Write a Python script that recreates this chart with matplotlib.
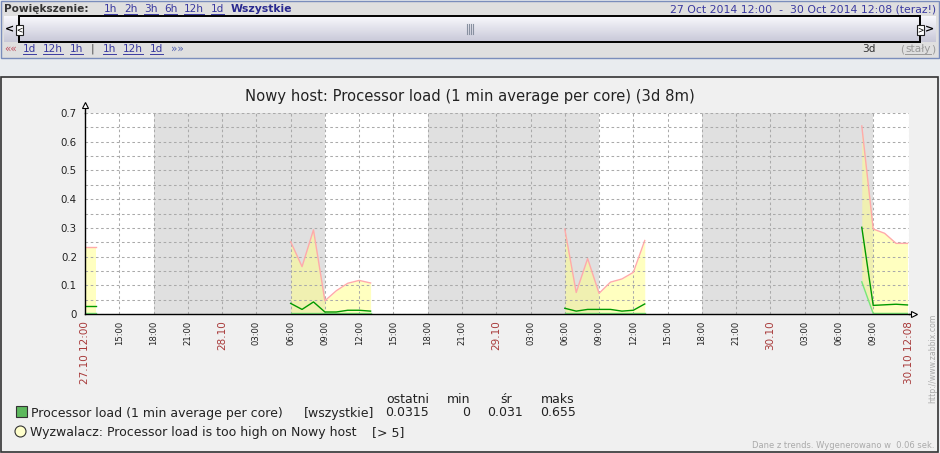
import matplotlib.pyplot as plt
from matplotlib.patches import Rectangle, Circle
import numpy as np

W, H = 940, 453

# time axis in hours counted from 27.10 12:00, graph period 3d 8m
span = 72 + 8 / 60

# trend data (hourly), four separate chunks
t1 = [0, 1]
max1 = [0.232, 0.232]
avg1 = [0.027, 0.027]
min1 = [0.002, 0.002]

t2 = [18, 19, 20, 21, 22, 23, 24, 25]
max2 = [0.252, 0.165, 0.293, 0.046, 0.081, 0.107, 0.117, 0.108]
avg2 = [0.037, 0.016, 0.042, 0.007, 0.007, 0.013, 0.013, 0.010]
min2 = [0.002, 0.002, 0.002, 0.002, 0.002, 0.002, 0.002, 0.002]

t3 = [42, 43, 44, 45, 46, 47, 48, 49]
max3 = [0.296, 0.075, 0.193, 0.072, 0.111, 0.122, 0.145, 0.256]
avg3 = [0.020, 0.010, 0.016, 0.016, 0.016, 0.010, 0.013, 0.035]
min3 = [0.002, 0.002, 0.002, 0.002, 0.002, 0.002, 0.002, 0.002]

t4 = [68, 69, 70, 71, 72]
max4 = [0.655, 0.296, 0.281, 0.246, 0.246]
avg4 = [0.302, 0.030, 0.032, 0.034, 0.0315]
min4 = [0.112, 0.002, 0.002, 0.002, 0.002]

chunks = [(t1, min1, avg1, max1), (t2, min2, avg2, max2),
          (t3, min3, avg3, max3), (t4, min4, avg4, max4)]

# non-working time (18:00 - 09:00)
off_start = [6, 30, 54]
off_end = [21, 45, 69]

tick_labels = ['27.10 12:00', '15:00', '18:00', '21:00', '28.10', '03:00', '06:00', '09:00',
               '12:00', '15:00', '18:00', '21:00', '29.10', '03:00', '06:00', '09:00',
               '12:00', '15:00', '18:00', '21:00', '30.10', '03:00', '06:00', '09:00',
               '30.10 12:08']
tick_red = [1, 0, 0, 0, 1, 0, 0, 0, 0, 0, 0, 0, 1, 0, 0, 0, 0, 0, 0, 0, 1, 0, 0, 0, 1]
tick_pos = list(range(0, 72, 3)) + [span]

legend_cols = ['ostatni', 'min', 'śr', 'maks']
legend_vals = ['0.0315', '0', '0.031', '0.655']

LINK = '#3a3aa0'
RED = '#a83a3a'

fig = plt.figure(figsize=(W / 100, H / 100), dpi=100)
fig.patch.set_facecolor('#e9ecef')

bg = fig.add_axes([0, 0, 1, 1])
bg.axis('off')

# ---- header panel ----
bg.add_patch(Rectangle((1, 0.5), 937.5, 57, facecolor='#dfdfdf', edgecolor='#7a8dbb', lw=1))
grad = np.linspace(0, 1, 50).reshape(-1, 1)
bg.imshow(grad, extent=(4, 936, 42, 16), aspect='auto', cmap=plt.matplotlib.colors.LinearSegmentedColormap.from_list('g', ['#f8f8fc', '#c8c8d8']), zorder=1)
bg.add_patch(Rectangle((19, 16), 901, 26, facecolor='none', edgecolor='black', lw=1.4, zorder=2))
bg.add_patch(Rectangle((16, 25), 7, 10, facecolor='white', edgecolor='#222', lw=0.8, zorder=3))
bg.add_patch(Rectangle((917, 25), 7, 10, facecolor='white', edgecolor='#222', lw=0.8, zorder=3))
bg.text(9, 29.5, '<', fontsize=8, fontweight='bold', ha='center', va='center', zorder=4)
bg.text(19.5, 30, '<', fontsize=5.5, ha='center', va='center', zorder=4)
bg.text(920.5, 30, '>', fontsize=5.5, ha='center', va='center', zorder=4)
bg.text(930, 29.5, '>', fontsize=8, fontweight='bold', ha='center', va='center', zorder=4)
for gx in [467, 469, 471, 473]:
    bg.plot([gx, gx], [24, 34], color='#8890a0', lw=0.8, zorder=3)

links = []


def link(x, y, s, color=LINK, weight='normal', size=7.6, under=True, ha='left'):
    t = bg.text(x, y, s, color=color, fontsize=size, fontweight=weight, va='baseline', ha=ha)
    if under:
        links.append((t, y + 1.6, color))
    return t


link(4, 12, 'Powiększenie:', color='#333333', weight='bold', under=False)
for x, s in zip([104, 124, 144, 164, 184, 211], ['1h', '2h', '3h', '6h', '12h', '1d']):
    link(x, 12, s)
link(231, 12, 'Wszystkie', color='#2a2a90', weight='bold', under=False, size=7.8)
link(936, 12, '27 Oct 2014 12:00  -  30 Oct 2014 12:08 (teraz!)', under=False, ha='right', size=7.8)

link(4, 52, '««', color='#c05060', under=False)
for x, s in zip([23, 43, 70], ['1d', '12h', '1h']):
    link(x, 52, s)
link(91, 52, '|', color='#444444', under=False)
for x, s in zip([103, 123, 150], ['1h', '12h', '1d']):
    link(x, 52, s)
link(171, 52, '»»', color='#5060b0', under=False)
link(862, 52, '3d', color='#333333', under=False)
link(900, 52, '(', color='#999999', under=False)
link(905, 52, 'stały', color='#999999')
link(935, 52, ')', color='#999999', under=False, ha='right')

# ---- graph panel ----
bg.add_patch(Rectangle((1, 76.5), 937, 375.5, facecolor='#f0f0f0', edgecolor='#333333', lw=1.2))
bg.text(470, 101, 'Nowy host: Processor load (1 min average per core) (3d 8m)',
        fontsize=10.6, color='#222222', ha='center', va='baseline')

ax = fig.add_axes([85 / W, 1 - 314 / H, 824 / W, 201 / H])
ax.set_facecolor('white')
for a, b in zip(off_start, off_end):
    ax.axvspan(a, b, color='#e0e0e0', lw=0, zorder=0)

for t, mn, av, mx in chunks:
    ax.fill_between(t, mn, mx, color='#ffff86', alpha=0.52, lw=0, zorder=2)
    ax.plot(t, mn, color='#78e878', lw=1, zorder=3)
    ax.plot(t, mx, color='#ffaaaa', lw=1, zorder=3)
    ax.plot(t, av, color='#009900', lw=1, zorder=4)

ax.set_xlim(0, span)
ax.set_ylim(0, 0.7)
ax.set_xticks(tick_pos)
ax.set_xticklabels(tick_labels, rotation=90)
for lab, red in zip(ax.get_xticklabels(), tick_red):
    if red:
        lab.set_color(RED)
        lab.set_fontsize(7.5)
    else:
        lab.set_color('#222222')
        lab.set_fontsize(6.1)
ax.set_yticks(np.arange(0, 0.71, 0.1))
ax.set_yticklabels(['0', '0.1', '0.2', '0.3', '0.4', '0.5', '0.6', '0.7'])
ax.set_yticks(np.arange(0.05, 0.7, 0.1), minor=True)
ax.tick_params(axis='y', which='both', length=0, pad=5.8, labelsize=7.4, labelcolor='#222222')
ax.tick_params(axis='x', length=0, pad=4.8)
ax.grid(True, which='both', color='#aaaaaa', lw=0.75, linestyle=(0, (2.5, 2.5)), zorder=1)
ax.set_axisbelow(False)
for s in ['top', 'right']:
    ax.spines[s].set_visible(False)
for s in ['left', 'bottom']:
    ax.spines[s].set_color('black')
    ax.spines[s].set_linewidth(1)
    ax.spines[s].set_zorder(5)

# axis arrows
ax.plot([0, 0], [1, 1.04], color='black', lw=1, transform=ax.transAxes, clip_on=False)
ax.plot([0], [1.04], marker='^', ms=5, mfc='white', mec='black', mew=0.8,
        transform=ax.transAxes, clip_on=False)
ax.plot([1, 1.006], [0, 0], color='black', lw=1, transform=ax.transAxes, clip_on=False)
ax.plot([1.0065], [0], marker='>', ms=5, mfc='white', mec='black', mew=0.8,
        transform=ax.transAxes, clip_on=False)

# ---- legend ----
bg.add_patch(Rectangle((16, 406), 11, 11, facecolor='#5db85d', edgecolor='#333333', lw=0.8))
bg.text(31, 416.5, 'Processor load (1 min average per core)', fontsize=9, color='#222222', va='baseline')
bg.text(304, 416.5, '[wszystkie]', fontsize=9, color='#222222', va='baseline')
for x, c, v in zip([429, 470, 512, 575], legend_cols, legend_vals):
    bg.text(x, 402.7, c, fontsize=9, color='#222222', va='baseline', ha='right')
    bg.text(x + (11 if c == 'śr' else 1 if c == 'maks' else 0), 416.5, v, fontsize=9,
            color='#222222', va='baseline', ha='right')
bg.add_patch(Circle((20.5, 431.5), 5.5, facecolor='#ffffcc', edgecolor='#333333', lw=0.8))
bg.text(30.5, 435.7, 'Wyzwalacz: Processor load is too high on Nowy host', fontsize=9,
        color='#222222', va='baseline')
bg.text(372, 435.7, '[> 5]', fontsize=9, color='#222222', va='baseline')

bg.text(935, 448, 'Dane z trends. Wygenerowano w  0.06 sek.', fontsize=6, color='#aaaaaa',
        ha='right', va='baseline')
bg.text(933, 358, 'http://www.zabbix.com', fontsize=5.6, color='#aaaaaa', rotation=90,
        ha='center', va='center')

bg.set_xlim(0, W)
bg.set_ylim(H, 0)

# underline the links
rend = fig.canvas.get_renderer()
for t, uy, c in links:
    bb = t.get_window_extent(renderer=rend)
    bg.plot([bb.x0, bb.x1], [uy, uy], color=c, lw=0.7)
bg.set_xlim(0, W)
bg.set_ylim(H, 0)

fig.savefig('out.png', dpi=100)
